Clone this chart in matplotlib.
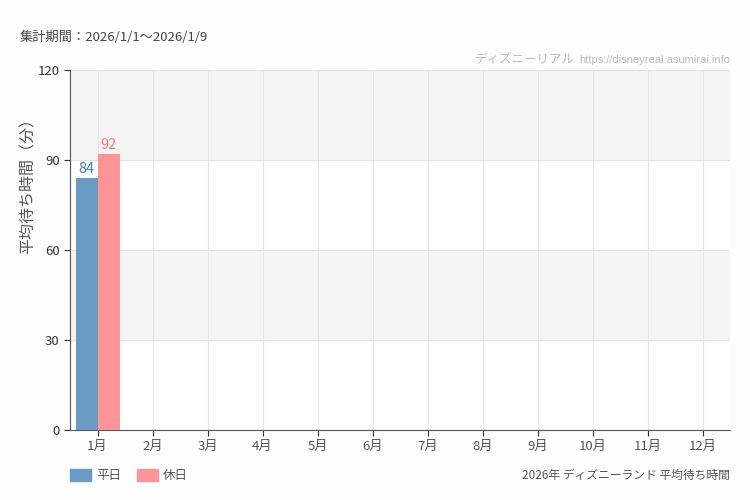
import matplotlib
matplotlib.use("Agg")
import matplotlib.pyplot as plt
import numpy as np
from matplotlib.patches import Rectangle

plt.rcParams['font.family'] = ['Noto Sans CJK JP', 'DejaVu Sans']

months = ['1月', '2月', '3月', '4月', '5月', '6月', '7月', '8月', '9月', '10月', '11月', '12月']
weekday = [84]   # 平日
holiday = [92]   # 休日
yticks = [0, 30, 60, 90, 120]

blue = '#6b9ac4'
pink = '#ff9496'

fig = plt.figure(figsize=(7.5, 5), dpi=100, facecolor='#fcfdfc')
ax = fig.add_axes([70 / 750, 70 / 500, 660 / 750, 360 / 500])
ax.set_facecolor('white')

# alternating bands
for lo, hi in [(30, 60), (90, 120)]:
    ax.axhspan(lo, hi, color='#f4f4f4', zorder=0, lw=0)

x = np.arange(len(months))
w = 0.4
xb = x[:len(weekday)]
ax.bar(xb - w / 2, weekday, width=w, color=blue, zorder=3)
ax.bar(xb + w / 2, holiday, width=w, color=pink, zorder=3)

for xi, v in zip(xb, weekday):
    ax.text(xi - w / 2, v + 0.6, str(v), ha='center', va='bottom', color='#3f7fbf', fontsize=10.5)
for xi, v in zip(xb, holiday):
    ax.text(xi + w / 2, v + 0.6, str(v), ha='center', va='bottom', color='#f07a7c', fontsize=10.5)

ax.set_xlim(-0.5, len(months) - 0.5)
ax.set_ylim(0, 120)
ax.set_xticks(x)
ax.set_xticklabels(months)
ax.set_yticks(yticks)
ax.tick_params(axis='both', colors='#333333', labelsize=9.5, length=4)
ax.tick_params(axis='x', labelcolor='#555555', pad=3)
ax.grid(True, color='#e4e4e4', lw=0.8, zorder=1)
ax.set_axisbelow(True)
for s in ['top', 'right']:
    ax.spines[s].set_visible(False)
for s in ['left', 'bottom']:
    ax.spines[s].set_color('#555555')

fig.text(28 / 750, 1 - 182 / 500, '平均待ち時間（分）', fontsize=11.5, color='#555555',
         rotation=90, ha='center', va='center')

fig.text(20 / 750, 1 - 37 / 500, '集計期間：2026/1/1〜2026/1/9', fontsize=9.5, color='#444444', va='center')

# watermark: narrow font for the url, site name placed just left of it
url = fig.text(730 / 750, 1 - 60 / 500, 'https://disneyreal.asumirai.info', fontsize=8,
               family=['Liberation Sans Narrow', 'Liberation Sans', 'DejaVu Sans'],
               color='#bbbbbb', ha='right', va='center')
ax.annotate('ディズニーリアル', xy=(0, 0.5), xycoords=url, xytext=(-3, 0),
            textcoords='offset points', fontsize=9, color='#bbbbbb',
            ha='right', va='center', annotation_clip=False)

fig.text(730 / 750, 1 - 475 / 500, '2026年 ディズニーランド 平均待ち時間', fontsize=8.5,
         color='#555555', ha='right', va='center')

# legend
fig.patches.append(Rectangle((70 / 750, 1 - 481 / 500), 21 / 750, 12 / 500, color=blue, transform=fig.transFigure))
fig.text(96 / 750, 1 - 475 / 500, '平日', fontsize=9, color='#555555', va='center')
fig.patches.append(Rectangle((137 / 750, 1 - 481 / 500), 21 / 750, 12 / 500, color=pink, transform=fig.transFigure))
fig.text(163 / 750, 1 - 475 / 500, '休日', fontsize=9, color='#555555', va='center')

fig.savefig('out.png', dpi=100, facecolor=fig.get_facecolor())
